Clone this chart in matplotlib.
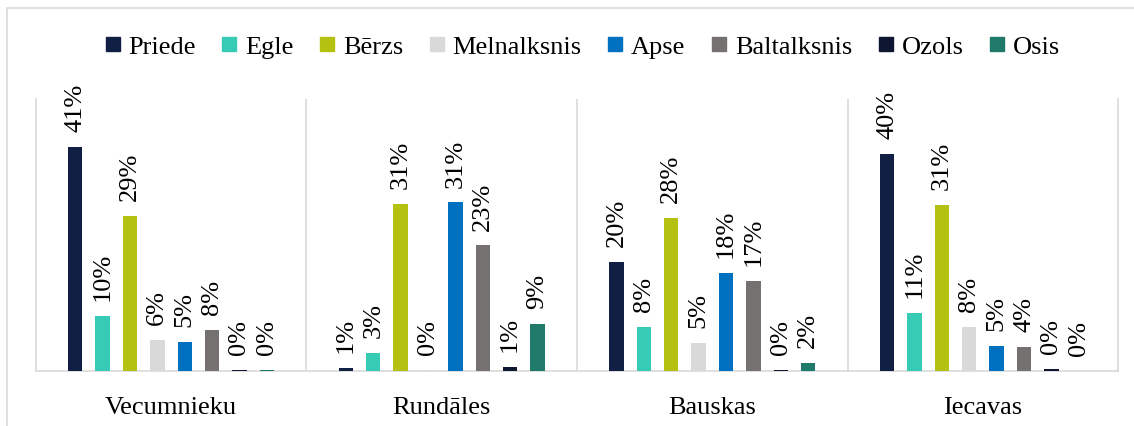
import numpy as np
import matplotlib
matplotlib.use("Agg")
import matplotlib.pyplot as plt
from matplotlib.lines import Line2D
from matplotlib.patches import Rectangle

plt.rcParams['font.family'] = ['Liberation Serif', 'DejaVu Serif']

# regions (categories)
regions = ["Vecumnieku", "Rundāles", "Bauskas", "Iecavas"]

# share of each tree species per region, %
priede      = [41.2, 0.6, 20.1, 39.9]
egle        = [10.2, 3.4, 8.1, 10.7]
berzs       = [28.6, 30.7, 28.1, 30.6]
melnalksnis = [5.8, 0.2, 5.2, 8.1]
apse        = [5.3, 31.0, 18.0, 4.6]
baltalksnis = [7.6, 23.1, 16.6, 4.4]
ozols       = [0.3, 0.8, 0.3, 0.4]
osis        = [0.2, 8.6, 1.6, 0.1]

species = ["Priede", "Egle", "Bērzs", "Melnalksnis", "Apse", "Baltalksnis", "Ozols", "Osis"]
series = [priede, egle, berzs, melnalksnis, apse, baltalksnis, ozols, osis]
colors = ["#121f45", "#37cbb6", "#b4c111", "#d9d9d9", "#0070c0", "#767171", "#0e1631", "#207a6a"]

W, H = 1134, 427
fig = plt.figure(figsize=(W / 100, H / 100), dpi=100)

# outer chart border
fig.patches.append(Rectangle((7 / W, -0.1), 1.2, 1.1 - 9 / H, transform=fig.transFigure,
                             fill=False, edgecolor="#d9d9d9", linewidth=1.2))

ax = fig.add_axes([35.7 / W, 54.7 / H, (1118.3 - 35.7) / W, (372.3 - 100) / H])

x = np.arange(len(regions)) + 0.5
step = 0.1012
width = 0.0532
for i, (name, vals, c) in enumerate(zip(species, series, colors)):
    pos = x + (i - 3.5) * step
    bars = ax.bar(pos, vals, width=width, color=c, label=name, zorder=3)
    for b, v in zip(bars, vals):
        ax.annotate(f"{v:.0f}%", (b.get_x() + b.get_width() / 2, v),
                    xytext=(0, 11.5), textcoords="offset points",
                    rotation=90, ha="center", va="bottom", fontsize=19,
                    annotation_clip=False)

ax.set_xlim(0, 4)
ax.set_ylim(0, 50)
for xs in [1, 2, 3]:
    ax.axvline(xs, color="#d9d9d9", linewidth=1.2, zorder=1)

for s in ["left", "right", "bottom"]:
    ax.spines[s].set_color("#d9d9d9")
    ax.spines[s].set_linewidth(1.2)
ax.spines["top"].set_visible(False)
ax.set_yticks([])
ax.set_xticks(x)
ax.set_xticklabels(regions, fontsize=19)
ax.tick_params(axis="x", length=0, pad=18)

handles = [Line2D([], [], marker="s", linestyle="", markersize=9.4, color=c) for c in colors]
fig.legend(handles, species, loc="center", bbox_to_anchor=(583 / W, 1 - 47 / H),
           ncol=8, frameon=False, fontsize=19, handlelength=0.5,
           handletextpad=0.35, columnspacing=1.02, borderpad=0)

fig.savefig("out.png", dpi=100)
